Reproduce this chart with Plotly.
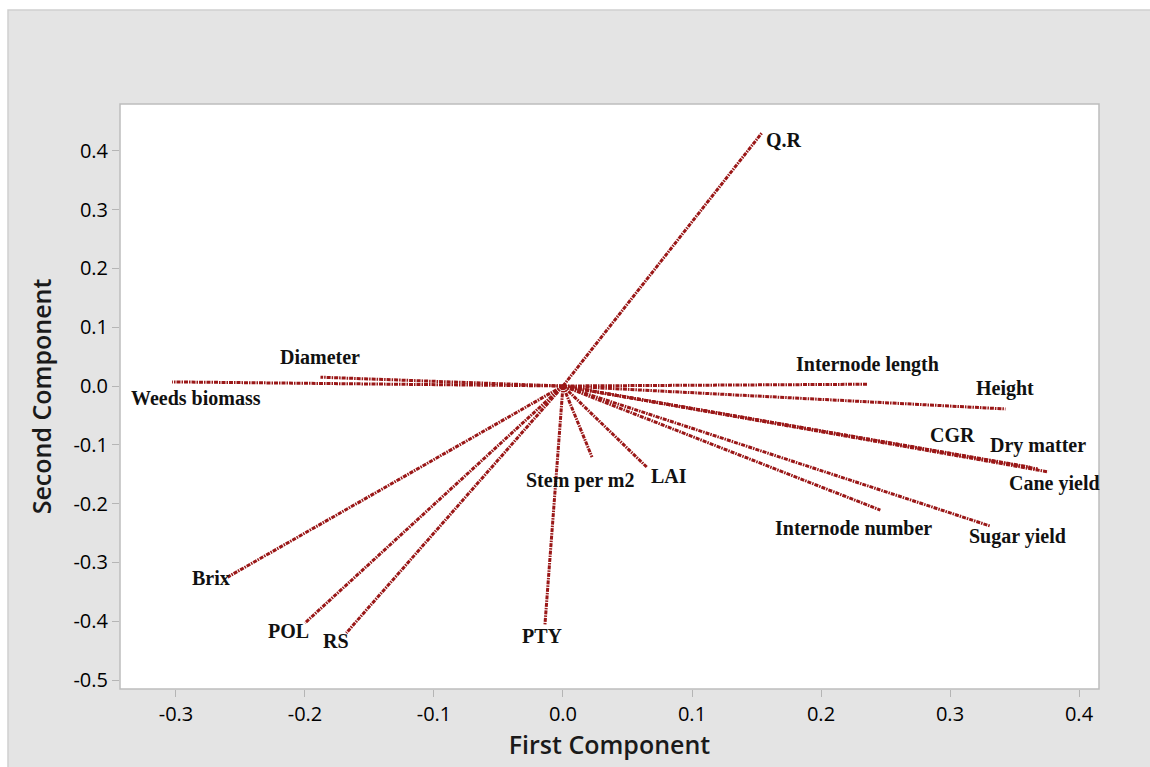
import plotly.graph_objects as go

variables = ["Q.R", "Weeds biomass", "Diameter", "Internode length", "Height", "CGR",
             "Dry matter", "Cane yield", "Internode number", "Sugar yield",
             "Stem per m2", "LAI", "PTY", "Brix", "POL", "RS"]
pc1 = [0.154, -0.303, -0.188, 0.236, 0.343, 0.362, 0.368, 0.376, 0.246, 0.331,
       0.0225, 0.065, -0.014, -0.260, -0.200, -0.168]
pc2 = [0.430, 0.007, 0.015, 0.003, -0.039, -0.138, -0.141, -0.146, -0.211, -0.238,
       -0.121, -0.138, -0.406, -0.325, -0.403, -0.420]
# label offsets in pixels (x, y-up)
label_dx = [22, 24, 0, 0, 0, -77, 0, 6, -27, 28, -12, 22, -2, -17, -16, -10]
label_dy = [-7, -16, 20, 20, 20, 32, 23, -12, -18, -11, -23, -9, -11, -1, -8, -8]

x_ticks = [-0.3, -0.2, -0.1, 0.0, 0.1, 0.2, 0.3, 0.4]
y_ticks = [-0.5, -0.4, -0.3, -0.2, -0.1, 0.0, 0.1, 0.2, 0.3, 0.4]

LINE_COLOR = "#9a1717"

fig = go.Figure()
for name, a, b in zip(variables, pc1, pc2):
    fig.add_trace(go.Scatter(x=[0, a], y=[0, b], mode="lines", name=name,
                             line=dict(color=LINE_COLOR, width=3, dash="4px,1px,1.5px,1px"),
                             showlegend=False, hoverinfo="name"))

annotations = []
for name, a, b, dx, dy in zip(variables, pc1, pc2, label_dx, label_dy):
    annotations.append(dict(x=a, y=b, text=name, showarrow=False, xshift=dx, yshift=dy,
                            font=dict(family="Liberation Serif", size=20, color="#111111", weight="bold")))

# outer gray panel and white plot area
W, H = 1150, 767
ml, mr, mt, mb = 120, 51, 104, 78
pw, ph = W - ml - mr, H - mt - mb
def px2paper_x(px):
    return (px - ml) / pw
def px2paper_y(py):
    return (H - mb - py) / ph

shapes = [
    dict(type="rect", xref="paper", yref="paper", layer="below",
         x0=px2paper_x(8), x1=px2paper_x(W + 5), y0=px2paper_y(H + 5), y1=px2paper_y(10),
         fillcolor="#e4e4e4", line=dict(color="#cfcfcf", width=1.5)),
    dict(type="rect", xref="paper", yref="paper", layer="below",
         x0=0, x1=1, y0=0, y1=1, fillcolor="white", line=dict(color="#bdbdbd", width=1.5)),
]

tickfont = dict(family="Open Sans", size=20, color="#000000")
fig.update_layout(
    width=W, height=H,
    margin=dict(l=ml, r=mr, t=mt, b=mb),
    paper_bgcolor="white", plot_bgcolor="white",
    shapes=shapes, annotations=annotations,
    xaxis=dict(range=[-0.3434, 0.4155], tickvals=x_ticks,
               ticktext=[f"{v:.1f}" for v in x_ticks],
               showgrid=False, zeroline=False, showline=False,
               ticks="outside", ticklen=7, tickcolor="#b5b5b5", tickwidth=1.3,
               tickfont=tickfont,
               title=dict(text="First Component", standoff=10,
                          font=dict(family="Open Sans", size=25, color="#1a1a1a", weight=600))),
    yaxis=dict(range=[-0.5153, 0.4796], tickvals=y_ticks,
               ticktext=[f"{v:.1f}" for v in y_ticks],
               showgrid=False, zeroline=False, showline=False,
               ticks="outside", ticklen=7, tickcolor="#b5b5b5", tickwidth=1.3,
               tickfont=tickfont,
               title=dict(text="Second Component", standoff=14,
                          font=dict(family="Open Sans", size=25, color="#1a1a1a", weight=600))),
)

fig.write_html("out.html")
